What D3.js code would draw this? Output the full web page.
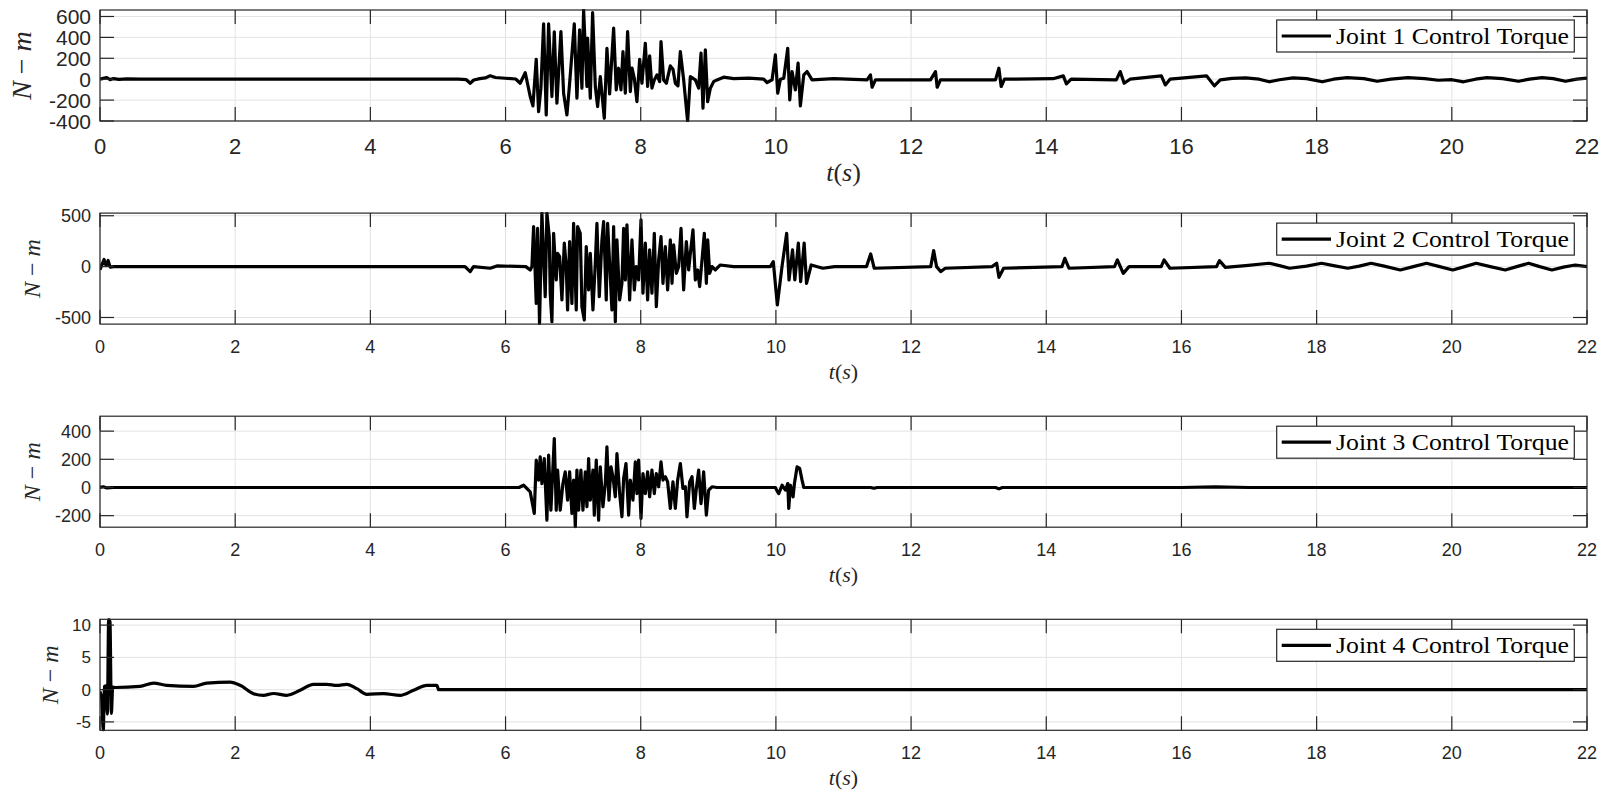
<!DOCTYPE html>
<html>
<head>
<meta charset="utf-8">
<script src="https://cdn.jsdelivr.net/npm/d3@7"></script>
<style>
  html, body { margin: 0; padding: 0; background: #ffffff; }
  svg { display: block; }
</style>
</head>
<body>
<svg id="chart" width="1614" height="799"></svg>
<script>
// ---------------- DATA ----------------
const timeTicks = [0, 2, 4, 6, 8, 10, 12, 14, 16, 18, 20, 22];
const legendLabels = ["Joint 1 Control Torque", "Joint 2 Control Torque", "Joint 3 Control Torque", "Joint 4 Control Torque"];
const yTicks1 = [-400, -200, 0, 200, 400, 600];
const yTicks2 = [-500, 0, 500];
const yTicks3 = [-200, 0, 200, 400];
const yTicks4 = [-5, 0, 5, 10];
const yDomain1 = [-400, 662];
const yDomain2 = [-565, 526];
const yDomain3 = [-282, 506];
const yDomain4 = [-6.3, 10.9];

// [t (s), torque (N-m)]
const joint1 = [
  [0,0],[0.05,8],[0.1,16],[0.15,-4],[0.2,6],[0.28,-2],[0.4,3],[0.6,0],[2,0],[4,0],[5.3,0],
  [5.42,-5],[5.477,-39],[5.53,-8],[5.62,5],[5.7,12],[5.773,32],[5.85,16],[5.995,9],[6.15,2],
  [6.217,-39],[6.291,63],[6.365,-166],[6.405,-255],[6.454,191],[6.489,-310],[6.523,-86],[6.563,529],
  [6.602,-342],[6.637,529],[6.686,-166],[6.721,453],[6.76,-230],[6.819,456],[6.859,-134],[6.908,-342],
  [6.948,-39],[7.017,529],[7.056,-182],[7.096,472],[7.13,-86],[7.155,663],[7.204,-70],[7.214,392],
  [7.254,-182],[7.288,638],[7.328,-70],[7.362,-262],[7.402,25],[7.461,-374],[7.5,296],[7.54,-141],
  [7.599,488],[7.638,-102],[7.673,105],[7.708,-102],[7.737,265],[7.772,-134],[7.806,456],[7.846,-118],
  [7.871,105],[7.905,9],[7.944,-214],[7.984,191],[8.018,-39],[8.068,344],[8.102,-70],[8.132,223],
  [8.166,-86],[8.201,-7],[8.24,41],[8.28,-23],[8.3,360],[8.339,-7],[8.379,-39],[8.438,127],
  [8.477,95],[8.512,-39],[8.551,-64],[8.586,265],[8.635,-7],[8.694,-405],[8.734,25],[8.808,-7],
  [8.857,-86],[8.892,249],[8.921,-278],[8.956,281],[8.99,-214],[9.03,-86],[9.079,-23],[9.128,-7],
  [9.227,19],[9.376,6],[9.6,10],[9.82,0],[9.869,-32],[9.943,-7],[9.992,233],[10.027,-134],
  [10.066,0],[10.116,9],[10.175,296],[10.205,-198],[10.239,73],[10.288,-102],[10.328,153],[10.362,-255],
  [10.412,41],[10.461,73],[10.535,-7],[10.856,6],[11.349,-7],[11.399,41],[11.423,-77],[11.473,-7],
  [12.287,-7],[12.361,73],[12.386,-77],[12.435,-7],[13.249,-7],[13.299,105],[13.333,-70],[13.382,0],
  [14.1,5],[14.252,32],[14.298,-45],[14.368,0],[15.036,-7],[15.094,73],[15.152,-39],[15.239,0],
  [15.703,32],[15.761,-55],[15.831,0],[16.371,32],[16.487,-64],[16.574,-7],[16.75,8],[16.95,12],
  [17.15,0],[17.3,-25],[17.45,-5],[17.65,12],[17.85,5],[18.083,-25],[18.25,0],[18.45,15],[18.7,5],
  [18.896,-20],[19.1,0],[19.35,15],[19.6,5],[19.8,-10],[20.0,-5],[20.174,-25],[20.35,0],[20.52,15],
  [20.75,5],[20.986,-20],[21.15,0],[21.335,15],[21.5,5],[21.683,-20],[21.85,0],[22,10]
];

const joint2 = [
  [0,-30],[0.03,20],[0.06,70],[0.09,10],[0.12,60],[0.15,-5],[0.2,0],[2,0],[4,0],[5.4,0],
  [5.477,-49],[5.526,0],[5.773,-16],[5.872,7],[6.3,0],[6.365,-33],[6.39,0],
  [6.415,394],[6.454,-361],[6.474,377],[6.503,-558],[6.538,525],[6.587,-295],[6.612,525],[6.647,295],
  [6.661,-262],[6.686,-541],[6.711,328],[6.75,-131],[6.77,131],[6.8,98],[6.834,-328],[6.869,230],
  [6.898,0],[6.918,-426],[6.948,246],[6.982,-361],[7.007,426],[7.046,-426],[7.066,394],[7.105,328],
  [7.13,-394],[7.165,-525],[7.194,197],[7.229,-230],[7.254,131],[7.293,-426],[7.328,33],[7.352,426],
  [7.387,-295],[7.426,262],[7.451,443],[7.49,-328],[7.51,426],[7.54,33],[7.574,-426],[7.599,394],
  [7.624,-541],[7.648,262],[7.688,-328],[7.722,-164],[7.747,377],[7.772,-131],[7.796,410],[7.836,-328],
  [7.87,262],[7.905,-230],[7.935,0],[7.969,-131],[8.004,459],[8.033,-262],[8.068,230],[8.102,-328],
  [8.132,164],[8.166,-262],[8.201,328],[8.231,-394],[8.265,66],[8.3,295],[8.329,-164],[8.364,197],
  [8.398,-230],[8.438,262],[8.463,-164],[8.487,213],[8.527,-66],[8.561,0],[8.596,377],[8.635,-230],
  [8.675,246],[8.709,-33],[8.734,131],[8.773,361],[8.808,-131],[8.843,-33],[8.872,-197],[8.907,66],
  [8.941,328],[8.971,-164],[8.991,262],[9.02,-66],[9.055,0],[9.104,-33],[9.178,16],[9.375,0],
  [9.918,0],[9.961,49],[10.021,-377],[10.09,0],[10.159,328],[10.194,-131],[10.246,164],[10.28,-131],
  [10.332,230],[10.366,-148],[10.418,230],[10.453,-164],[10.522,16],[10.694,-16],[10.867,0],
  [11.341,0],[11.402,125],[11.454,-16],[12.291,0],[12.334,157],[12.377,0],[12.437,-49],[12.506,-16],
  [13.197,0],[13.266,33],[13.3,-105],[13.369,-16],[14.232,0],[14.275,82],[14.336,-16],
  [15.009,0],[15.052,66],[15.139,-66],[15.225,0],[15.7,0],[15.743,66],[15.829,-16],
  [16.519,0],[16.562,59],[16.649,-7],[16.95,10],[17.296,33],[17.45,10],[17.598,-16],[17.85,5],
  [18.073,33],[18.25,10],[18.461,-16],[18.63,5],[18.806,33],[19.0,5],[19.238,-33],[19.43,0],
  [19.626,33],[19.82,0],[20.014,-33],[20.19,0],[20.36,33],[20.57,0],[20.791,-33],[20.96,0],
  [21.136,33],[21.3,0],[21.481,-33],[21.65,-5],[21.827,16],[22,0]
];

const joint3 = [
  [0,0],[0.05,5],[0.1,-3],[0.2,0],[2,0],[4,0],[6.2,0],
  [6.267,16],[6.365,-31],[6.425,-184],[6.454,194],[6.489,52],[6.513,217],[6.538,28],[6.573,205],
  [6.612,-232],[6.637,229],[6.671,-161],[6.721,347],[6.75,-161],[6.77,123],[6.809,-161],[6.849,28],
  [6.883,111],[6.918,-90],[6.948,111],[6.982,-184],[7.007,52],[7.032,-279],[7.056,123],[7.081,-161],
  [7.115,123],[7.145,-161],[7.18,111],[7.204,-137],[7.229,205],[7.254,-90],[7.293,123],[7.313,-196],
  [7.342,194],[7.377,-232],[7.402,146],[7.441,-137],[7.476,28],[7.5,288],[7.53,-90],[7.56,146],
  [7.589,76],[7.624,-66],[7.648,241],[7.688,-43],[7.722,-208],[7.747,64],[7.782,170],[7.821,-196],
  [7.846,52],[7.885,-90],[7.92,182],[7.944,-43],[7.969,194],[8.004,-220],[8.033,99],[8.068,-43],
  [8.102,111],[8.132,-66],[8.166,123],[8.201,-43],[8.231,99],[8.265,5],[8.3,182],[8.329,52],
  [8.364,76],[8.398,40],[8.438,-149],[8.477,40],[8.512,-149],[8.546,52],[8.586,170],[8.625,-7],
  [8.66,5],[8.684,-208],[8.724,40],[8.759,76],[8.793,-149],[8.823,-7],[8.857,123],[8.892,-114],
  [8.931,111],[8.971,-196],[9.005,-19],[9.055,5],[9.128,0],[9.992,0],[10.017,-24],[10.042,-43],
  [10.091,16],[10.141,-19],[10.175,28],[10.19,-149],[10.214,16],[10.254,-66],[10.274,28],[10.313,146],
  [10.352,135],[10.387,52],[10.412,0],[11.4,0],[11.45,-6],[11.5,0],[13.25,0],[13.3,-10],[13.35,0],
  [16,0],[16.5,4],[17,0],[22,0]
];

const joint4 = [
  [0,-0.3],[0.025,-1.5],[0.049,-6.3],[0.064,0.5],[0.089,0.6],[0.109,-3.8],[0.128,10.9],[0.148,10.5],
  [0.168,-3.7],[0.188,0.4],[0.222,0.33],[0.592,0.5],[0.79,1.0],[0.987,0.67],[1.382,0.5],[1.579,1.0],
  [1.925,1.15],[2.073,0.67],[2.27,-0.62],[2.418,-0.88],[2.566,-0.6],[2.764,-0.88],[2.961,-0.1],
  [3.158,0.83],[3.355,0.83],[3.504,0.67],[3.652,0.83],[3.8,0.15],[3.948,-0.72],[4.195,-0.62],
  [4.441,-0.88],[4.639,-0.1],[4.836,0.67],[4.984,0.67],[5.009,0],[22,0]
];

// ---------------- LAYOUT ----------------
const panels = [
  { data: joint1, ticks: yTicks1, domain: yDomain1, label: legendLabels[0], big: true,  curve: d3.curveLinear },
  { data: joint2, ticks: yTicks2, domain: yDomain2, label: legendLabels[1], big: false, curve: d3.curveLinear },
  { data: joint3, ticks: yTicks3, domain: yDomain3, label: legendLabels[2], big: false, curve: d3.curveLinear },
  { data: joint4, ticks: yTicks4, domain: yDomain4, label: legendLabels[3], big: false, curve: d3.curveMonotoneX }
];

const svg = d3.select("#chart");
const left = 100, right = 1587;
const panelH = 111, firstTop = 10, step = 203.1;
const tickLen = 14;
const axisColor = "#262626";
const gridColor = "#e3e3e3";

const x = d3.scaleLinear().domain([0, 22]).range([left, right]);

panels.forEach((p, i) => {
  const top = firstTop + i * step;
  const bottom = top + panelH;
  const y = d3.scaleLinear().domain(p.domain).range([bottom, top]);
  const g = svg.append("g");
  const tickFont = p.big ? 22 : 18;
  const yTickFont = p.big ? 21 : (i === 3 ? 17 : 18);

  g.append("rect").attr("x", left).attr("y", top).attr("width", right - left).attr("height", panelH).attr("fill", "#fff");

  // grid
  g.selectAll(".gx").data(timeTicks).enter().append("line")
    .attr("x1", d => x(d)).attr("x2", d => x(d)).attr("y1", top).attr("y2", bottom)
    .attr("stroke", gridColor).attr("stroke-width", 1);
  g.selectAll(".gy").data(p.ticks).enter().append("line")
    .attr("x1", left).attr("x2", right).attr("y1", d => y(d)).attr("y2", d => y(d))
    .attr("stroke", gridColor).attr("stroke-width", 1);

  // data line
  const clipId = "clip" + i;
  svg.append("clipPath").attr("id", clipId).append("rect")
    .attr("x", left).attr("y", top - 1).attr("width", right - left).attr("height", panelH + 2);
  const line = d3.line().x(d => x(d[0])).y(d => y(d[1])).curve(p.curve);
  g.append("path").datum(p.data).attr("d", line)
    .attr("fill", "none").attr("stroke", "#000").attr("stroke-width", 3.2)
    .attr("stroke-linejoin", "round").attr("clip-path", `url(#${clipId})`);

  // ticks (inside, on all four sides)
  g.selectAll(".txb").data(timeTicks).enter().append("line")
    .attr("x1", d => x(d)).attr("x2", d => x(d)).attr("y1", bottom).attr("y2", bottom - tickLen)
    .attr("stroke", axisColor).attr("stroke-width", 1.2);
  g.selectAll(".txt").data(timeTicks).enter().append("line")
    .attr("x1", d => x(d)).attr("x2", d => x(d)).attr("y1", top).attr("y2", top + tickLen)
    .attr("stroke", axisColor).attr("stroke-width", 1.2);
  g.selectAll(".tyl").data(p.ticks).enter().append("line")
    .attr("x1", left).attr("x2", left + tickLen).attr("y1", d => y(d)).attr("y2", d => y(d))
    .attr("stroke", axisColor).attr("stroke-width", 1.2);
  g.selectAll(".tyr").data(p.ticks).enter().append("line")
    .attr("x1", right).attr("x2", right - tickLen).attr("y1", d => y(d)).attr("y2", d => y(d))
    .attr("stroke", axisColor).attr("stroke-width", 1.2);

  // box
  g.append("rect").attr("x", left).attr("y", top).attr("width", right - left).attr("height", panelH)
    .attr("fill", "none").attr("stroke", axisColor).attr("stroke-width", 1.2);

  // tick labels
  g.selectAll(".lx").data(timeTicks).enter().append("text")
    .attr("x", d => x(d)).attr("y", bottom + (p.big ? 33 : 28.7))
    .attr("text-anchor", "middle").attr("font-family", "Liberation Sans, Arial, sans-serif")
    .attr("font-size", tickFont).attr("fill", axisColor).text(d => d);
  g.selectAll(".ly").data(p.ticks).enter().append("text")
    .attr("x", left - 9).attr("y", d => y(d)).attr("dy", "0.36em")
    .attr("text-anchor", "end").attr("font-family", "Liberation Sans, Arial, sans-serif")
    .attr("font-size", yTickFont).attr("fill", axisColor).text(d => d);

  // x label t(s)
  const xl = g.append("text")
    .attr("x", (left + right) / 2).attr("y", bottom + (p.big ? 60 : 55))
    .attr("text-anchor", "middle").attr("font-family", "Liberation Serif, Times New Roman, serif")
    .attr("font-size", p.big ? 26 : 22).attr("fill", axisColor);
  xl.append("tspan").attr("font-style", "italic").text("t");
  xl.append("tspan").text("(");
  xl.append("tspan").attr("font-style", "italic").text("s");
  xl.append("tspan").text(")");

  // y label N − m
  const cx = p.big ? 22 : (i === 3 ? 50 : 31.5);
  const cy = (top + bottom) / 2;
  const yl = g.append("text")
    .attr("transform", `translate(${cx + (p.big ? 9 : 8)},${cy}) rotate(-90)`)
    .attr("text-anchor", "middle").attr("font-family", "Liberation Serif, Times New Roman, serif")
    .attr("font-size", p.big ? 28 : 24).attr("fill", axisColor);
  yl.append("tspan").attr("font-style", "italic").text("N");
  yl.append("tspan").text(" − ");
  yl.append("tspan").attr("font-style", "italic").text("m");

  // legend
  const lx0 = 1276.7, lx1 = 1574.3, ly0 = top + 10, ly1 = top + 42;
  g.append("rect").attr("x", lx0).attr("y", ly0).attr("width", lx1 - lx0).attr("height", ly1 - ly0)
    .attr("fill", "#fff").attr("stroke", axisColor).attr("stroke-width", 1.2);
  g.append("line").attr("x1", 1281.7).attr("x2", 1331).attr("y1", (ly0 + ly1) / 2).attr("y2", (ly0 + ly1) / 2)
    .attr("stroke", "#000").attr("stroke-width", 3.2);
  g.append("text").attr("x", 1336).attr("y", (ly0 + ly1) / 2 + 7.5)
    .attr("font-family", "Liberation Serif, Times New Roman, serif").attr("font-size", 23)
    .attr("fill", "#000").attr("textLength", 233).attr("lengthAdjust", "spacingAndGlyphs")
    .text(p.label);
});
</script>
</body>
</html>
